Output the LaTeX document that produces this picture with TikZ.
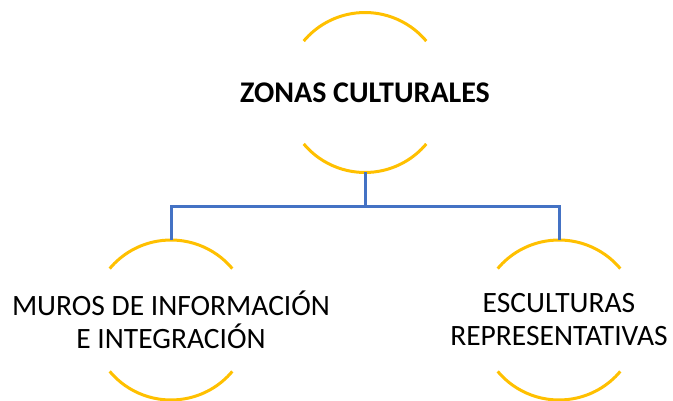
\documentclass[tikz,border=0pt]{standalone}
\usepackage{fontspec}
\setmainfont{Carlito}
\usetikzlibrary{calc,positioning}

\definecolor{ringgold}{HTML}{FFC000}
\definecolor{linkblue}{HTML}{4472C4}

\begin{document}
\begin{tikzpicture}[x=1pt, y=-1pt,
    ring/.style={circle, minimum size=160pt, inner sep=0pt, outer sep=0pt},
    arcline/.style={draw=ringgold, line width=3pt},
    link/.style={draw=linkblue, line width=3pt},
    toptext/.style={font=\bfseries\fontsize{30}{34}\selectfont},
    subtext/.style={font=\fontsize{29.5}{33}\selectfont, align=center}]

  \useasboundingbox (0,0) rectangle (673,401);

  % Circles with their texts
  \node[ring, label={[toptext]center:ZONAS CULTURALES}] (zonas) at (365,92.5) {};
  \node[ring, label={[subtext]center:{MUROS DE INFORMACIÓN\\E INTEGRACIÓN}}] (muros) at (171,320) {};
  \node[ring, label={[subtext]center:{ESCULTURAS\\REPRESENTATIVAS}}] (esculturas) at (559,320) {};

  % Only the upper and lower arcs of each circle are drawn
  \foreach \n in {zonas,muros,esculturas} {
    \draw[arcline] (\n.40) arc[start angle=40, end angle=140, radius=80pt];
    \draw[arcline] (\n.220) arc[start angle=220, end angle=320, radius=80pt];
  }

  % Elbow connectors
  \coordinate (fork) at (365,207);
  \draw[link] (zonas.south) -- (fork);
  \draw[link] (muros.north) |- (fork) -| (esculturas.north);

\end{tikzpicture}
\end{document}
